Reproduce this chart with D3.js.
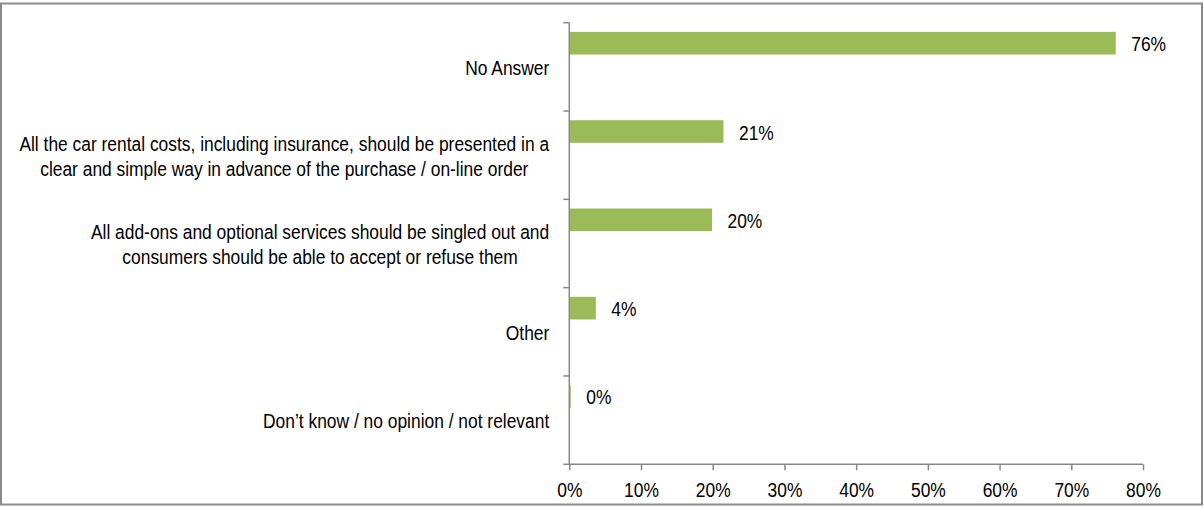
<!DOCTYPE html>
<html>
<head>
<meta charset="utf-8">
<script src="https://cdn.jsdelivr.net/npm/d3@7"></script>
<style>
  html, body { margin: 0; padding: 0; background: #fff; }
  svg { display: block; }
  text { font-family: "Liberation Sans", Arial, sans-serif; fill: #000; }
</style>
</head>
<body>
<svg id="chart" width="1204" height="507"></svg>
<script>
// Survey answers (share of respondents)
const categories = [
  ["No Answer"],
  ["All the car rental costs, including insurance, should be presented in a", "clear and simple way in advance of the purchase / on-line order"],
  ["All add-ons and optional services should be singled out and", "consumers should be able to accept or refuse them"],
  ["Other"],
  ["Don\u2019t know / no opinion / not relevant"]
];
const values = [0.762, 0.215, 0.199, 0.037, 0.002];
const valueLabels = ["76%", "21%", "20%", "4%", "0%"];
const tickValues = [0, 0.1, 0.2, 0.3, 0.4, 0.5, 0.6, 0.7, 0.8];
const tickLabels = ["0%", "10%", "20%", "30%", "40%", "50%", "60%", "70%", "80%"];

const svg = d3.select("#chart");
const fontSize = 20;
const narrow = 0.87;          // horizontal condensing of the typeface
const axisColor = "#878787";
const barColor = "#9BBB59";

// Place a condensed text at (px, py)
function place(sel, px, py) {
  sel.attr("transform", `translate(${px},${py}) scale(${narrow},1)`);
}

// Outer frame
svg.append("rect")
  .attr("x", 1).attr("y", 3.5).attr("width", 1201).attr("height", 501)
  .attr("fill", "none").attr("stroke", "#8a8a8a").attr("stroke-width", 2);

const keys = categories.map((c, i) => i);
const x = d3.scaleLinear().domain([0, 0.8]).range([569.3, 1143]);
const y = d3.scaleBand().domain(keys).range([22.7, 464.3]).padding(0);
const bw = y.bandwidth();

// Bars sit in the upper part of each category band
const barOffset = bw * 0.104;
const barHeight = bw * 0.256;

svg.append("g").selectAll("rect")
  .data(values)
  .join("rect")
  .attr("x", x(0))
  .attr("y", (d, i) => y(i) + barOffset)
  .attr("width", d => x(d) - x(0))
  .attr("height", barHeight)
  .attr("fill", barColor);

// Value labels
svg.append("g").selectAll("text")
  .data(values)
  .join("text")
  .attr("dy", "0.35em")
  .attr("font-size", fontSize)
  .text((d, i) => valueLabels[i])
  .each(function(d, i) {
    place(d3.select(this), x(d) + 15.5, y(i) + barOffset + barHeight / 2 + 1);
  });

// Category axis: line plus ticks at band boundaries
const catAxis = svg.append("g").attr("stroke", axisColor).attr("stroke-width", 1.5);
catAxis.append("line")
  .attr("x1", x(0)).attr("x2", x(0))
  .attr("y1", y.range()[0]).attr("y2", y.range()[1]);
const boundaries = keys.map(k => y(k)).concat([y.range()[1]]);
catAxis.selectAll("line.tick")
  .data(boundaries)
  .join("line")
  .attr("class", "tick")
  .attr("x1", x(0) - 6).attr("x2", x(0))
  .attr("y1", d => d).attr("y2", d => d);

// Category labels, right aligned block with centred lines
const labelRight = x(0) - 20;
const lineGap = 25;
const labelG = svg.append("g");
categories.forEach((lines, i) => {
  const cy = y(i) + bw / 2 + 1;
  const g = labelG.append("g");
  const texts = lines.map((line, j) =>
    g.append("text")
      .attr("font-size", fontSize)
      .attr("dy", "0.35em")
      .attr("text-anchor", "middle")
      .text(line)
  );
  const maxW = d3.max(texts, t => t.node().getComputedTextLength()) * narrow;
  texts.forEach((t, j) =>
    place(t, labelRight - maxW / 2, cy + (j - (lines.length - 1) / 2) * lineGap));
});

// Value axis along the bottom
const xAxis = d3.axisBottom(x)
  .tickValues(tickValues)
  .tickFormat((d, i) => tickLabels[i])
  .tickSize(6)
  .tickPadding(10);
const gx = svg.append("g")
  .attr("transform", `translate(0,${y.range()[1]})`)
  .call(xAxis);
gx.attr("font-family", null).attr("font-size", null);
gx.select(".domain").attr("stroke", axisColor).attr("stroke-width", 1.5)
  .attr("d", `M${x(0)},0H${x(0.8)}`);
gx.selectAll(".tick line").attr("stroke", axisColor).attr("stroke-width", 1.5);
gx.selectAll(".tick text")
  .attr("font-size", fontSize)
  .attr("fill", "#000")
  .attr("y", null)
  .attr("dy", "0.35em")
  .attr("transform", `translate(0,26) scale(${narrow},1)`);
</script>
</body>
</html>
